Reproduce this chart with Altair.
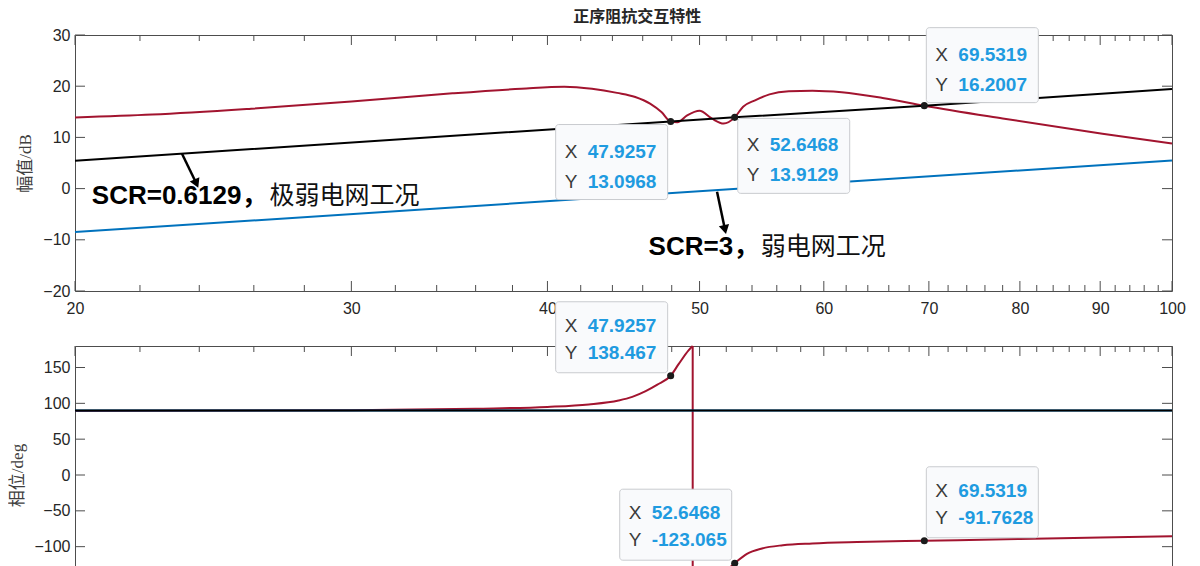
import altair as alt
import pandas as pd

# ---------------- data ----------------
# frequency axis (Hz) tick values
x_major_ticks = [20, 30, 40, 50, 60, 70, 80, 90, 100]
x_minor_ticks = [22, 24, 26, 28, 32, 34, 36, 38, 42, 44, 46, 48, 52, 54, 56, 58,
                 62, 64, 66, 68, 72, 74, 76, 78, 82, 84, 86, 88, 92, 94, 96, 98]
mag_ticks = [-20, -10, 0, 10, 20, 30]
phase_ticks = [-150, -100, -50, 0, 50, 100, 150]
phase_tick_labels = [-100, -50, 0, 50, 100, 150]

# magnitude panel (dB)
red_mag_f = [20, 22.4, 25.9, 30, 34.8, 38.5, 41.0, 42.7, 44.3, 45.5, 46.5, 47.3, 47.9257,
             48.4, 49.1, 50.0, 50.9, 51.8, 52.6468, 53.3, 54.2, 55.4, 57.0, 59.0, 61.6,
             65.4, 69.5319, 78.0, 90.3, 100]
red_mag_db = [13.9, 14.45, 15.6, 17.0, 18.6, 19.5, 19.9, 19.5, 18.7, 17.9, 16.6, 14.9, 13.0968,
              12.95, 14.3, 15.2, 13.7, 12.7, 13.9129, 16.0, 17.2, 18.4, 19.0, 19.1, 18.8,
              17.7, 16.2007, 13.7, 10.7, 8.8]
black_mag_f = [20, 47.9257, 52.6468, 69.5319, 100]
black_mag_db = [5.45, 13.0968, 13.9129, 16.2007, 19.43]
blue_mag_f = [20, 100]
blue_mag_db = [-8.5, 5.5]

# phase panel (deg)
red_ph_left_f = [20, 30, 36, 40, 42.5, 44.4, 45.3, 46.2, 47.0, 47.9257, 48.5, 49.2, 49.5]
red_ph_left = [89.3, 90.3, 92.5, 95, 98.5, 104, 109, 117, 126, 138.467, 155, 174, 180]
red_ph_right_f = [49.5, 50.5, 51.5, 52.6468, 53.6, 54.8, 56.5, 59, 63, 69.5319, 80, 90, 100]
red_ph_right = [-180, -162, -142, -123.065, -110, -102.5, -98, -95.5, -93.5, -91.7628, -89.3, -87.3, -85.5]
wrap_f = [49.5]
wrap_top = [180]
wrap_bottom = [-180]
black_ph_f = [20, 100]
black_ph = [90, 90]
blue_ph_f = [20, 100]
blue_ph = [90, 90]

# data tips
mag_tip_f = [47.9257, 52.6468, 69.5319]
mag_tip_v = [13.0968, 13.9129, 16.2007]
ph_tip_f = [47.9257, 52.6468, 69.5319]
ph_tip_v = [138.467, -123.065, -91.7628]

# annotations (magnitude panel)
ann_lat_f = [20.5, 46.4]
ann_lat_db = [-1.4, -11.5]
ann_lat_text = ["SCR=0.6129，", "SCR=3，"]
ann_cjk_f = [26.6, 54.7]
ann_cjk_db = [-1.4, -11.5]
ann_cjk_text = ["极弱电网工况", "弱电网工况"]
arrow_tail_f = [23.4, 51.3]
arrow_tail_db = [6.8, -0.6]
arrow_head_f = [23.9, 51.9]
arrow_head_db = [1.0, -8.0]

# ---------------- layout / style ----------------
W, H1, H2 = 1097, 256, 258
AX = "#4d4d4d"
RED, BLUE, BLACK = "#A2142F", "#0072BD", "#000000"
SANS = "Liberation Sans, Arial, Noto Sans CJK SC"
SERIF = "Liberation Serif, Noto Sans CJK SC"
CJK = "Noto Sans CJK SC"

xscale = alt.Scale(type="log", domain=[20, 100], nice=False)
ys1 = alt.Scale(domain=[-20, 30], nice=False, zero=False)
ys2 = alt.Scale(domain=[-180, 180], nice=False, zero=False)

x_axis_top = alt.Axis(values=x_major_ticks, format="d", labelFontSize=16, labelFont=SANS,
                      labelColor="#262626", ticks=False, tickSize=0, domain=False, grid=False,
                      title=None, labelPadding=9, labelFlush=False, labelOverlap=False)
x_axis_bot = alt.Axis(values=x_major_ticks, labels=False, ticks=False, tickSize=0, domain=False,
                      grid=False, title=None)
y_axis_top = alt.Axis(values=mag_ticks, format="d", labelFontSize=16, labelFont=SANS,
                      labelColor="#262626", ticks=False, tickSize=0, domain=False, grid=False,
                      title="幅值/dB", titleFont=SERIF, titleFontSize=17, titleFontWeight="normal",
                      titleColor="#404040", titlePadding=8, labelPadding=5)
y_axis_bot = alt.Axis(values=phase_tick_labels, format="d", labelFontSize=16, labelFont=SANS,
                      labelColor="#262626", ticks=False, tickSize=0, domain=False, grid=False,
                      title="相位/deg", titleFont=SERIF, titleFontSize=17, titleFontWeight="normal",
                      titleColor="#404040", titlePadding=7, labelPadding=5)


class Panel:
    def __init__(self, xaxis, yaxis, yscale, H):
        self.xa, self.ya, self.ys, self.H = xaxis, yaxis, yscale, H

    def X(self, fld):
        return alt.X(fld, scale=xscale, axis=self.xa)

    def Y(self, fld):
        return alt.Y(fld, scale=self.ys, axis=self.ya)


def line(P, f, v, color, interp="linear", width=2):
    df = pd.DataFrame({"f": f, "v": v})
    return alt.Chart(df).mark_line(color=color, strokeWidth=width, interpolate=interp).encode(
        x=P.X("f:Q"), y=P.Y("v:Q"))


def tick_layers(P, yvals):
    out = []
    H = P.H
    for vals, ln in ((x_major_ticks, 10), (x_minor_ticks, 6)):
        d = pd.DataFrame({"f": vals})
        out.append(alt.Chart(d).mark_rule(color=AX, strokeWidth=1).encode(
            x=P.X("f:Q"), y=alt.value(H), y2=alt.value(H - ln)))
        out.append(alt.Chart(d).mark_rule(color=AX, strokeWidth=1).encode(
            x=P.X("f:Q"), y=alt.value(0), y2=alt.value(ln)))
    d = pd.DataFrame({"v": yvals})
    out.append(alt.Chart(d).mark_rule(color=AX, strokeWidth=1).encode(
        y=P.Y("v:Q"), x=alt.value(0), x2=alt.value(10)))
    out.append(alt.Chart(d).mark_rule(color=AX, strokeWidth=1).encode(
        y=P.Y("v:Q"), x=alt.value(W), x2=alt.value(W - 10)))
    return out


BW = 112


def tip_layers(P, fx, vy, places, BH, r1, r2):
    df = pd.DataFrame({"f": fx, "v": vy, "xs": [str(a) for a in fx],
                       "ys": [str(b) for b in vy], "p": places})
    out = []
    offs = {"ra": (2, -3 - BH), "la": (-3 - BW, -3 - BH), "lb": (-3 - BW, 3), "rb": (3, 1)}
    for p in sorted(set(places)):
        sub = df[df.p == p]
        left, top = offs[p]
        base = alt.Chart(sub)
        out.append(base.mark_rect(xOffset=left, x2Offset=left + BW, yOffset=top, y2Offset=top + BH,
                                  fill="#f9fafc", stroke="#c9cbcf", strokeWidth=1, cornerRadius=3).encode(
            x=P.X("f:Q"), x2="f:Q", y=P.Y("v:Q"), y2="v:Q"))
        for lab, fld, ry in (("X", "xs", r1), ("Y", "ys", r2)):
            out.append(base.mark_text(align="left", baseline="middle", dx=left + 9, dy=top + ry,
                                      font=SANS, fontSize=19, color="#3a3a3a").encode(
                x=P.X("f:Q"), y=P.Y("v:Q"), text=alt.value(lab)))
            out.append(base.mark_text(align="left", baseline="middle", dx=left + 32, dy=top + ry,
                                      font=SANS, fontSize=19, fontWeight="bold", color="#1f9be0").encode(
                x=P.X("f:Q"), y=P.Y("v:Q"), text=alt.Text(fld + ":N")))
    out.append(alt.Chart(df).mark_point(filled=True, size=50, color="#1b1b1b", opacity=1).encode(
        x=P.X("f:Q"), y=P.Y("v:Q")))
    return out


# ---------------- top panel ----------------
PT = Panel(x_axis_top, y_axis_top, ys1, H1)
top_layers = [
    line(PT, red_mag_f, red_mag_db, RED, interp="monotone"),
    line(PT, black_mag_f, black_mag_db, BLACK),
    line(PT, blue_mag_f, blue_mag_db, BLUE),
]

arr = pd.DataFrame({"f": arrow_tail_f, "v": arrow_tail_db, "f2": arrow_head_f, "v2": arrow_head_db})
top_layers.append(alt.Chart(arr).mark_rule(color=BLACK, strokeWidth=2.5).encode(
    x=PT.X("f:Q"), y=PT.Y("v:Q"), x2="f2:Q", y2="v2:Q"))
for i, ang in enumerate([336, 347]):
    top_layers.append(alt.Chart(arr.iloc[[i]]).mark_point(
        shape="triangle-down", filled=True, size=110, color=BLACK, opacity=1, angle=ang).encode(
        x=PT.X("f2:Q"), y=PT.Y("v2:Q")))

ann1 = pd.DataFrame({"f": ann_lat_f, "v": ann_lat_db, "t": ann_lat_text})
ann2 = pd.DataFrame({"f": ann_cjk_f, "v": ann_cjk_db, "t": ann_cjk_text})
top_layers.append(alt.Chart(ann1).mark_text(align="left", baseline="middle", font=SANS, fontSize=26,
                                            fontWeight="bold", color=BLACK).encode(
    x=PT.X("f:Q"), y=PT.Y("v:Q"), text="t:N"))
top_layers.append(alt.Chart(ann2).mark_text(align="left", baseline="middle", font=CJK, fontSize=25,
                                            fontWeight="normal", color="#111111").encode(
    x=PT.X("f:Q"), y=PT.Y("v:Q"), text="t:N"))

top_layers += tick_layers(PT, mag_ticks)
top_layers += tip_layers(PT, mag_tip_f, mag_tip_v, ["lb", "rb", "ra"], 75, 27, 57)

top = alt.layer(*top_layers).properties(width=W, height=H1)

# ---------------- bottom panel ----------------
PB = Panel(x_axis_bot, y_axis_bot, ys2, H2)
wrap = pd.DataFrame({"f": wrap_f, "a": wrap_top, "b": wrap_bottom})
bot_layers = [
    line(PB, red_ph_left_f, red_ph_left, RED, interp="monotone"),
    line(PB, red_ph_right_f, red_ph_right, RED, interp="monotone"),
    alt.Chart(wrap).mark_rule(color=RED, strokeWidth=2).encode(
        x=PB.X("f:Q"), y=PB.Y("a:Q"), y2="b:Q"),
    line(PB, blue_ph_f, blue_ph, BLUE),
    line(PB, black_ph_f, black_ph, BLACK),
]
bot_layers += tick_layers(PB, phase_ticks)
bot_layers += tip_layers(PB, ph_tip_f, ph_tip_v, ["la", "la", "ra"], 71, 24, 51)

bottom = alt.layer(*bot_layers).properties(width=W, height=H2)

chart = alt.vconcat(top, bottom, spacing=55, bounds="flush").properties(
    title=alt.TitleParams("正序阻抗交互特性", font=SERIF, fontSize=16, fontWeight="bold",
                          color="#262626", anchor="middle", offset=2, dx=40),
    padding={"left": 0, "top": 0, "right": 0, "bottom": 0},
    background="white",
).configure_view(stroke=AX, strokeWidth=1)

chart.save("out.html", embed_options={"renderer": "svg", "actions": False})
